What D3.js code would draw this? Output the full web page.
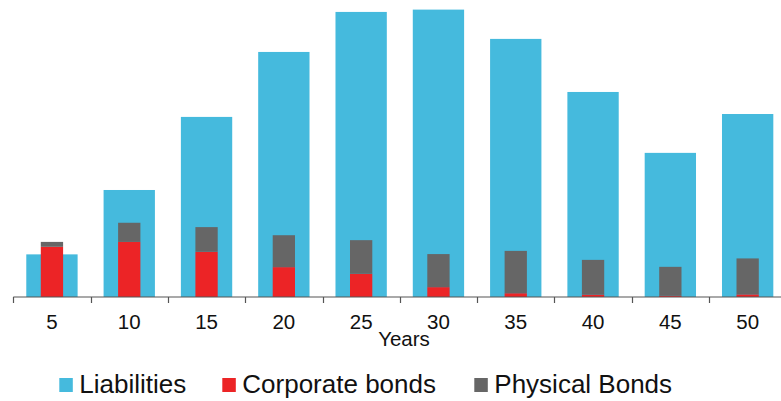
<!DOCTYPE html>
<html><head><meta charset="utf-8">
<script src="https://cdn.jsdelivr.net/npm/d3@7"></script>
<style>body{margin:0;background:#fff;} svg{display:block;font-family:"Liberation Sans",Arial,sans-serif;}</style>
</head><body>
<svg id="c" width="781" height="401"></svg>
<script>
const years = ["5","10","15","20","25","30","35","40","45","50"];
const liabilities = [14.7, 36.9, 62.1, 84.5, 98.3, 99.1, 89.0, 70.7, 49.7, 63.1];
const corporateBonds = [17.3, 19.0, 15.6, 10.3, 8.0, 3.4, 1.3, 0.8, 0.4, 0.9];
const physicalBonds = [1.7, 6.6, 8.5, 11.0, 11.6, 11.4, 14.6, 12.0, 10.0, 12.4];
const seriesNames = ["Liabilities", "Corporate bonds", "Physical Bonds"];
const colors = ["#45BADD", "#EC2426", "#666666"];

const svg = d3.select("#c");
const x = d3.scaleBand().domain(years).range([13.3, 786.3]).paddingInner(0.336).paddingOuter(0.168);
const xw = d3.scaleBand().domain(years).range([13.3, 786.3]);
const y = d3.scaleLinear().domain([0, 100]).range([297, 7]);

// liabilities
svg.append("g").selectAll("rect").data(years).join("rect")
  .attr("x", d => x(d)).attr("width", x.bandwidth())
  .attr("y", (d,i) => y(liabilities[i])).attr("height", (d,i) => y(0) - y(liabilities[i]))
  .attr("fill", colors[0]);

const innerW = 22.3;
// corporate bonds
svg.append("g").selectAll("rect").data(years).join("rect")
  .attr("x", d => xw(d) + xw.bandwidth()/2 - innerW/2).attr("width", innerW)
  .attr("y", (d,i) => y(corporateBonds[i])).attr("height", (d,i) => y(0) - y(corporateBonds[i]))
  .attr("fill", colors[1]);
// physical bonds stacked
svg.append("g").selectAll("rect").data(years).join("rect")
  .attr("x", d => xw(d) + xw.bandwidth()/2 - innerW/2).attr("width", innerW)
  .attr("y", (d,i) => y(corporateBonds[i] + physicalBonds[i]))
  .attr("height", (d,i) => y(corporateBonds[i]) - y(corporateBonds[i] + physicalBonds[i]))
  .attr("fill", colors[2]);

// axis
const ax = svg.append("g").attr("transform", "translate(0,297)");
ax.append("line").attr("x1", 13.3).attr("x2", 786.3).attr("y1", 0).attr("y2", 0).attr("stroke", "#555").attr("stroke-width", 1.2);
ax.selectAll("line.t").data(years).join("line").attr("class","t")
  .attr("x1", d => Math.round(xw(d))+0.5).attr("x2", d => Math.round(xw(d))+0.5)
  .attr("y1", 0).attr("y2", 6).attr("stroke", "#555").attr("stroke-width", 1.2);
ax.selectAll("text").data(years).join("text")
  .attr("x", d => xw(d) + xw.bandwidth()/2).attr("y", 32)
  .attr("text-anchor", "middle").attr("font-size", 20.5).attr("fill", "#111").text(d => d);

svg.append("text").attr("x", 404).attr("y", 346).attr("text-anchor", "middle")
  .attr("font-size", 20.5).attr("fill", "#111").text("Years");

// legend
const legX = [59.3, 222.3, 474.3];
const lg = svg.append("g");
seriesNames.forEach((n, i) => {
  lg.append("rect").attr("x", legX[i]).attr("y", 378).attr("width", 13.5).attr("height", 14).attr("fill", colors[i]);
  lg.append("text").attr("x", legX[i] + 20).attr("y", 393).attr("font-size", 26).attr("fill", "#111").text(n);
});
</script>
</body></html>
